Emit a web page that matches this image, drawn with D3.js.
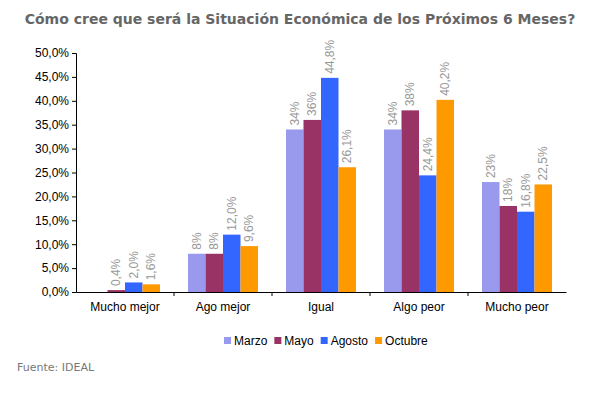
<!DOCTYPE html>
<html><head><meta charset="utf-8">
<script src="https://cdn.jsdelivr.net/npm/d3@7"></script>
<style>body{margin:0;background:#fff;font-family:Arial,"Liberation Sans",sans-serif}</style>
</head><body><div id="chart"></div>
<script>
let categories = ["Mucho mejor", "Ago mejor", "Igual", "Algo peor", "Mucho peor"];
let seriesNames = ["Marzo", "Mayo", "Agosto", "Octubre"];
let seriesColors = ["#9999ee", "#993366", "#3366ff", "#ff9900"];
let values = [
  [null, 8, 34, 34, 23],
  [0.4, 8, 36, 38, 18],
  [2.0, 12.0, 44.8, 24.4, 16.8],
  [1.6, 9.6, 26.1, 40.2, 22.5]
];
let labels = [
  ["", "8%", "34%", "34%", "23%"],
  ["0,4%", "8%", "36%", "38%", "18%"],
  ["2,0%", "12,0%", "44,8%", "24,4%", "16,8%"],
  ["1,6%", "9,6%", "26,1%", "40,2%", "22,5%"]
];
let yTicks = [0, 5, 10, 15, 20, 25, 30, 35, 40, 45, 50];

let svg = d3.select("#chart").append("svg").attr("width", 597).attr("height", 400);

svg.append("text").attr("x", 300).attr("y", 24).attr("text-anchor", "middle")
  .style("font-family", "'DejaVu Sans', Verdana, sans-serif").style("font-weight", "bold")
  .style("font-size", "14px").attr("fill", "#666")
  .text("Cómo cree que será la Situación Económica de los Próximos 6 Meses?");

let plotLeft = 76, plotRight = 566, plotTop = 53, plotBottom = 292;
let x = d3.scaleBand().domain(categories).range([plotLeft, plotRight]);
let x1 = d3.scaleBand().domain(seriesNames).range([0, 70]);
let y = d3.scaleLinear().domain([0, 50]).range([plotBottom, plotTop]);

svg.append("g").attr("transform", `translate(${plotLeft},0)`)
  .call(d3.axisLeft(y).tickValues(yTicks).tickSize(4)
    .tickFormat(d => d.toFixed(1).replace(".", ",") + "%"))
  .call(g => g.selectAll("text").style("font-size", "12px").attr("fill", "#000"))
  .call(g => g.selectAll("line,path").attr("stroke", "#000"));

svg.append("g").attr("transform", `translate(0,${plotBottom})`)
  .call(d3.axisBottom(x).tickSize(0).tickPadding(10))
  .call(g => g.selectAll("text").style("font-size", "12px").attr("fill", "#000"))
  .call(g => g.select("path").attr("stroke", "#000"));
svg.append("g").selectAll("line").data(categories.slice(1)).join("line")
  .attr("x1", d => x(d)).attr("x2", d => x(d)).attr("y1", plotBottom).attr("y2", plotBottom + 4)
  .attr("stroke", "#000");

seriesNames.forEach((s, si) => {
  categories.forEach((c, ci) => {
    let v = values[si][ci];
    if (v == null) return;
    let bx = x(c) + (x.bandwidth() - 70) / 2 + x1(s);
    svg.append("rect").attr("x", bx).attr("width", x1.bandwidth())
      .attr("y", y(v)).attr("height", plotBottom - y(v)).attr("fill", seriesColors[si]);
    if (labels[si][ci]) {
      svg.append("text")
        .attr("transform", `translate(${bx + x1.bandwidth() / 2 + 4},${y(v) - 4}) rotate(-90)`)
        .style("font-size", "12px").attr("fill", "#999").text(labels[si][ci]);
    }
  });
});

let lg = svg.append("g").attr("transform", "translate(224,337)");
let lx = 0;
seriesNames.forEach((s, i) => {
  lg.append("rect").attr("x", lx).attr("y", 0).attr("width", 7).attr("height", 7).attr("fill", seriesColors[i]);
  let t = lg.append("text").attr("x", lx + 10).attr("y", 8).style("font-size", "12px").text(s);
  lx += 10 + t.node().getComputedTextLength() + 7;
});

svg.append("text").attr("x", 17).attr("y", 371).style("font-size", "11px")
  .style("font-family", "'DejaVu Sans', Verdana, sans-serif").attr("fill", "#777").text("Fuente: IDEAL");
</script></body></html>
